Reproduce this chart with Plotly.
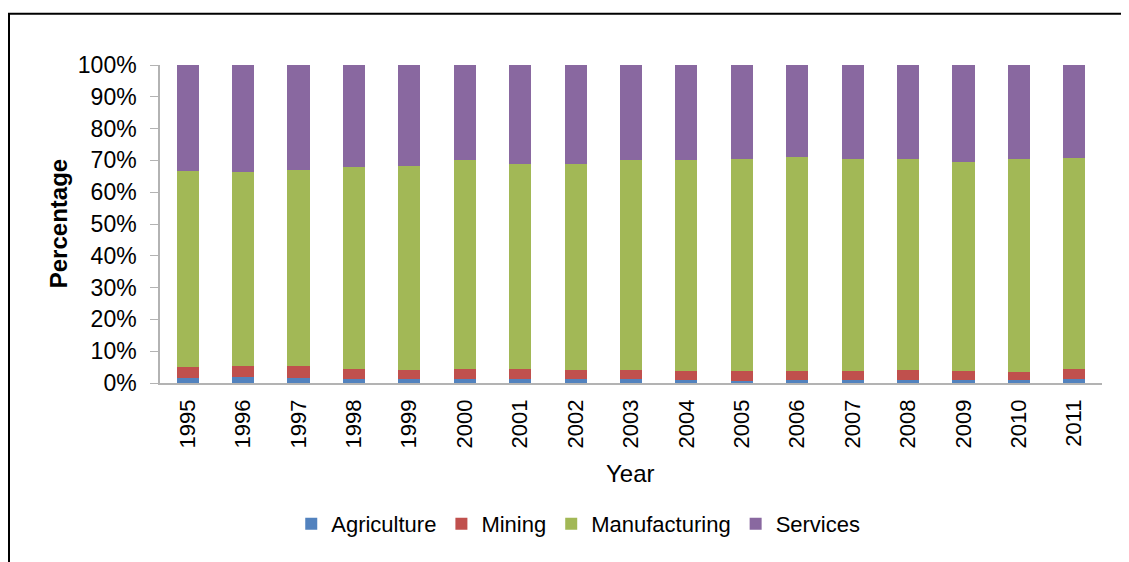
import plotly.graph_objects as go

years = [str(y) for y in range(1995, 2012)]
agriculture = [1.7, 2.0, 1.7, 1.4, 1.3, 1.2, 1.2, 1.2, 1.3, 1.0, 0.7, 0.9, 0.9, 0.9, 0.8, 1.0, 1.3]
mining = [3.4, 3.5, 3.6, 3.0, 2.7, 3.2, 3.3, 3.0, 2.9, 2.9, 3.1, 3.0, 2.8, 3.2, 2.9, 2.6, 3.0]
manufacturing = [61.6, 60.8, 61.7, 63.5, 64.2, 65.6, 64.3, 64.6, 65.9, 66.2, 66.7, 67.2, 66.8, 66.4, 65.9, 66.8, 66.5]
services = [33.3, 33.7, 33.0, 32.1, 31.8, 30.0, 31.2, 31.2, 29.9, 29.9, 29.5, 28.9, 29.5, 29.5, 30.4, 29.6, 29.2]

series = [
    ("Agriculture", agriculture, "#5282BE"),
    ("Mining", mining, "#C0504D"),
    ("Manufacturing", manufacturing, "#A2B856"),
    ("Services", services, "#8968A0"),
]

FONT = "Liberation Sans, Arial, sans-serif"

fig = go.Figure()
for name, vals, color in series:
    fig.add_trace(go.Bar(
        x=years, y=vals, name=name,
        marker=dict(color=color, line=dict(width=0)),
    ))

fig.update_layout(
    barmode="stack",
    barnorm="percent",
    bargap=0.60,
    width=1121, height=554,
    margin=dict(l=152, r=27, t=57, b=179, autoexpand=False),
    paper_bgcolor="white", plot_bgcolor="white",
    font=dict(family=FONT, size=22, color="#000000"),
    showlegend=True,
    legend=dict(
        orientation="h", x=0.444, xanchor="center", y=-0.443, yanchor="middle",
        font=dict(family=FONT, size=22, color="#000000"),
        traceorder="normal", itemwidth=30,
    ),
    xaxis=dict(
        type="category", showgrid=False, showline=True, linecolor="#B3B3B3", linewidth=1.5,
        ticks="", tickangle=-90, tickfont=dict(size=22), automargin=False,
        ticklabelstandoff=6,
    ),
    yaxis=dict(
        range=[0, 100], dtick=10, ticksuffix="%", showgrid=False, showline=True,
        linecolor="#B3B3B3", linewidth=1.5, ticks="outside", ticklen=8, tickcolor="#B3B3B3",
        tickfont=dict(size=23), automargin=False, zeroline=False, ticklabelstandoff=9,
    ),
    annotations=[
        dict(text="<b>Percentage</b>", xref="paper", yref="paper", x=-0.108, y=0.5,
             textangle=-90, showarrow=False, font=dict(size=24), xanchor="center", yanchor="middle"),
        dict(text="Year", xref="paper", yref="paper", x=0.499, y=-0.286,
             showarrow=False, font=dict(size=24), xanchor="center", yanchor="middle"),
    ],
    shapes=[
        dict(type="rect", xref="paper", yref="paper", x0=-0.1603, x1=1.1, y0=-0.7, y1=1.1613,
             line=dict(color="black", width=2), fillcolor="rgba(0,0,0,0)", layer="above"),
    ],
)

fig.write_html("out.html")
